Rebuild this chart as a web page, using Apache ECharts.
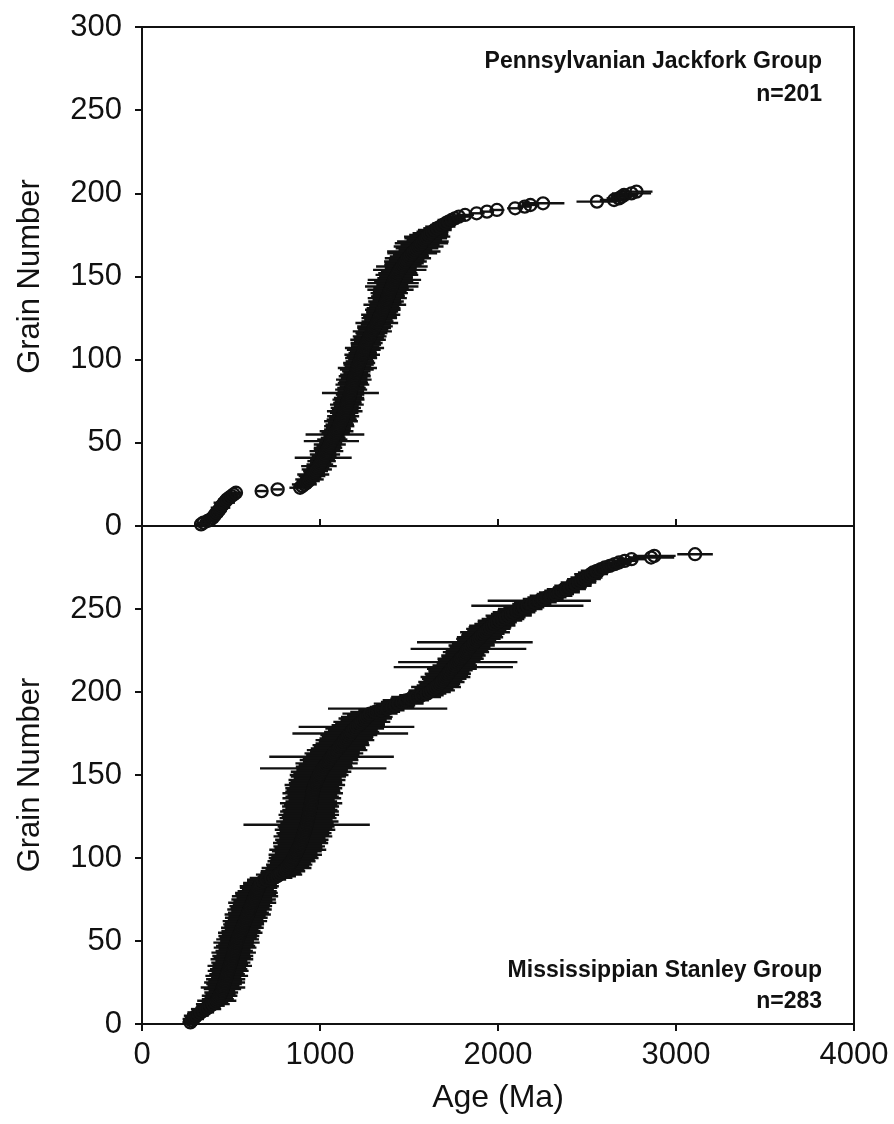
<!DOCTYPE html>
<head>
<meta charset="utf-8">
<title>Grain ages</title>
<style>
html,body{margin:0;padding:0;background:#fff;width:100%;height:100%;}
#main{width:894px;height:1124px;}
</style>
</head>
<body>
<div id="main"></div>
<script src="https://cdn.jsdelivr.net/npm/echarts@6/dist/echarts.min.js"></script>
<script type="text/javascript">
// Pennsylvanian Jackfork Group, ages (Ma) sorted, grain 1..201
var jackforkAge = [
 332,345,368,385,398,405,412,420,428,436,
 441,447,455,462,470,478,490,503,515,528,
 672,762,888,900,912,925,934,941,948,955,
 962,968,975,982,988,994,999,1004,1009,1014,
 1018,1023,1028,1032,1036,1040,1045,1050,1055,1060,
 1064,1069,1074,1079,1084,1088,1093,1098,1103,1108,
 1111,1115,1118,1122,1126,1130,1133,1136,1139,1142,
 1145,1148,1151,1154,1157,1160,1163,1166,1169,1171,
 1173,1175,1177,1180,1182,1185,1187,1190,1192,1195,
 1198,1201,1204,1207,1210,1213,1217,1220,1224,1228,
 1231,1234,1237,1240,1243,1246,1250,1254,1258,1262,
 1266,1270,1274,1279,1284,1289,1294,1299,1304,1309,
 1314,1319,1323,1328,1333,1337,1341,1345,1349,1353,
 1357,1361,1364,1368,1371,1375,1378,1382,1385,1389,
 1392,1396,1399,1403,1406,1410,1414,1418,1422,1427,
 1432,1437,1442,1448,1454,1460,1466,1473,1480,1487,
 1494,1502,1510,1518,1527,1536,1545,1554,1562,1570,
 1578,1586,1594,1602,1611,1620,1632,1645,1660,1676,
 1690,1706,1722,1740,1758,1780,1815,1880,1938,1994,
 2096,2150,2182,2253,2556,2652,2680,2695,2708,2750,
 2778
];
var jackforkErr = [
 40,35,45,38,42,50,36,44,48,40,
 55,38,46,60,42,50,45,38,40,35,
 30,28,60,45,70,55,65,80,60,75,
 90,60,70,85,65,100,75,60,80,70,
 160,70,85,60,95,75,80,70,90,65,
 155,85,70,60,165,80,95,75,70,85,
 80,70,95,85,75,90,65,80,100,75,
 85,70,95,80,75,90,85,70,80,160,
 75,90,80,70,95,85,80,100,75,90,
 85,70,80,95,110,75,85,90,80,70,
 90,85,100,80,75,95,110,80,85,90,
 75,100,85,95,80,90,110,85,95,100,
 85,120,90,80,100,95,110,85,90,100,
 95,85,120,90,100,80,110,95,90,105,
 95,130,100,150,90,145,110,150,100,95,
 120,110,100,150,90,145,105,110,120,100,
 130,110,100,140,150,95,120,140,110,150,
 145,100,120,130,110,100,90,95,80,85,
 70,75,60,80,55,65,50,45,40,42,
 45,38,50,120,115,80,70,60,75,110,
 90
];

// Mississippian Stanley Group, ages (Ma) sorted, grain 1..283
var stanleyAge = [
 272,280,288,295,305,318,330,345,360,372,
 385,398,410,420,426,431,436,441,445,449,
 452,455,458,461,464,467,470,473,476,478,
 481,484,487,490,493,496,499,502,505,507,
 510,513,515,518,520,523,526,528,531,534,
 537,540,544,548,552,556,560,564,567,571,
 575,578,582,586,590,594,598,601,604,607,
 611,615,619,623,627,631,635,639,643,647,
 651,655,659,663,668,680,700,725,760,770,
 780,792,803,812,820,827,834,840,846,852,
 856,861,866,870,875,879,883,887,891,895,
 898,901,904,907,910,913,916,919,922,925,
 927,929,931,933,935,937,939,941,943,945,
 947,948,950,951,953,954,956,957,959,960,
 962,965,968,971,975,979,983,987,991,995,
 1000,1006,1012,1018,1024,1030,1037,1044,1051,1058,
 1065,1072,1078,1084,1096,1103,1110,1118,1125,1133,
 1140,1147,1155,1162,1170,1178,1185,1195,1205,1215,
 1225,1235,1245,1254,1263,1272,1281,1310,1345,1380,
 1405,1425,1442,1462,1482,1510,1540,1570,1600,1615,
 1628,1640,1652,1663,1673,1682,1690,1698,1705,1712,
 1718,1725,1733,1741,1749,1757,1765,1774,1782,1790,
 1798,1806,1814,1820,1826,1834,1843,1852,1861,1870,
 1880,1890,1899,1908,1917,1927,1937,1946,1955,1968,
 1982,1996,2011,2028,2045,2060,2075,2090,2107,2125,
 2145,2165,2190,2210,2232,2254,2275,2298,2322,2345,
 2360,2384,2404,2421,2437,2452,2468,2483,2497,2511,
 2523,2534,2555,2578,2600,2628,2655,2680,2712,2750,
 2860,2878,3107
];
var stanleyErr = [
 45,50,60,55,70,65,75,60,85,70,
 80,95,75,110,90,80,100,85,95,75,
 105,125,90,100,115,95,110,85,120,100,
 90,115,105,95,125,100,110,90,120,105,
 115,95,125,105,90,120,110,100,130,95,
 120,105,115,100,125,110,95,120,105,115,
 110,125,100,120,105,130,115,100,125,110,
 120,105,135,110,125,100,130,115,120,110,
 90,105,110,95,100,90,110,120,105,130,
 115,125,110,140,120,130,115,135,125,140,
 130,150,120,140,160,135,145,125,155,140,
 150,130,165,145,155,140,170,150,160,355,
 150,175,140,160,150,170,145,165,155,140,
 160,150,175,145,130,165,150,140,170,155,
 150,160,140,170,150,145,160,135,155,165,
 150,170,145,355,160,150,175,140,165,155,
 350,150,165,140,170,155,145,160,150,140,
 165,150,145,160,325,155,140,165,325,150,
 140,160,130,150,145,120,155,140,130,335,
 125,110,140,120,130,115,140,125,110,120,
 130,110,140,120,115,130,110,125,140,120,
 130,115,125,140,335,125,110,335,120,130,
 115,125,110,130,120,325,115,130,120,325,
 110,125,130,115,120,140,110,125,120,130,
 115,110,125,120,110,130,115,120,110,125,
 115,315,110,120,290,115,110,120,105,115,
 100,110,95,105,90,100,85,95,90,80,
 95,85,90,80,85,75,80,70,75,80,
 130,120,100
];

var panelLabels = [['Pennsylvanian Jackfork Group','n=201'],['Mississippian Stanley Group','n=283']];
var ink = '#111';
var tickFont = 'Liberation Sans, Arial, sans-serif';

function errBars(ages, errs, idx){
  var d = ages.map(function(a,i){ return [a-errs[i], a+errs[i], i+1]; });
  return {
    type:'custom', xAxisIndex:idx, yAxisIndex:idx, data:d, z:3, silent:true,
    encode:{x:[0,1], y:2},
    renderItem:function(params, api){
      var p1 = api.coord([api.value(0), api.value(2)]);
      var p2 = api.coord([api.value(1), api.value(2)]);
      return {type:'line', shape:{x1:p1[0],y1:p1[1],x2:p2[0],y2:p2[1]},
        style:{stroke:ink, lineWidth:2.4}};
    }
  };
}
function grains(ages, idx){
  return {
    type:'scatter', xAxisIndex:idx, yAxisIndex:idx, z:4, silent:true,
    data: ages.map(function(a,i){ return [a, i+1]; }),
    symbol:'circle', symbolSize:12,
    itemStyle:{color:'rgba(0,0,0,0)', borderColor:ink, borderWidth:2.3, opacity:1}
  };
}
function yAx(idx){
  return {
    gridIndex:idx, type:'value', min:0, max:300, interval:50,
    name:'Grain Number', nameLocation:'middle', nameGap:96,
    nameTextStyle:{fontFamily:tickFont, fontSize:31, color:ink},
    axisLine:{show:true, lineStyle:{color:ink, width:2}},
    axisTick:{show:true, inside:false, length:7, lineStyle:{color:ink, width:2}},
    axisLabel:{fontFamily:tickFont, fontSize:31, color:ink, margin:20, showMaxLabel: idx===0},
    splitLine:{show:false}
  };
}
function xAx(idx){
  var bottom = idx===1;
  return {
    gridIndex:idx, type:'value', min:0, max:4000, interval:1000,
    name: bottom ? 'Age (Ma)' : '', nameLocation:'middle', nameGap:58,
    nameTextStyle:{fontFamily:tickFont, fontSize:32, color:ink},
    axisLine:{show:true, lineStyle:{color:ink, width:2}},
    axisTick:{show:true, inside:!bottom, length:7, lineStyle:{color:ink, width:2}},
    axisLabel:{show:bottom, fontFamily:tickFont, fontSize:31, color:ink, margin:16,
      formatter:function(v){ return String(v); }},
    splitLine:{show:false}
  };
}
function label(text, y){
  return {
    type:'text', right:72, top:y, z:10,
    style:{text:text, align:'right', font:'bold 23px Liberation Sans, Arial, sans-serif', fill:ink}
  };
}

var myChart = echarts.init(document.getElementById('main'));
myChart.setOption({
  animation:false,
  backgroundColor:'#fff',
  grid:[
    {left:142, top:27, width:712, height:499, show:true, borderColor:ink, borderWidth:2},
    {left:142, top:526, width:712, height:498, show:true, borderColor:ink, borderWidth:2}
  ],
  xAxis:[xAx(0), xAx(1)],
  yAxis:[yAx(0), yAx(1)],
  graphic:[
    label(panelLabels[0][0], 50), label(panelLabels[0][1], 83),
    label(panelLabels[1][0], 959), label(panelLabels[1][1], 990)
  ],
  series:[
    errBars(jackforkAge, jackforkErr, 0),
    grains(jackforkAge, 0),
    errBars(stanleyAge, stanleyErr, 1),
    grains(stanleyAge, 1)
  ]
});
</script>
</body>
